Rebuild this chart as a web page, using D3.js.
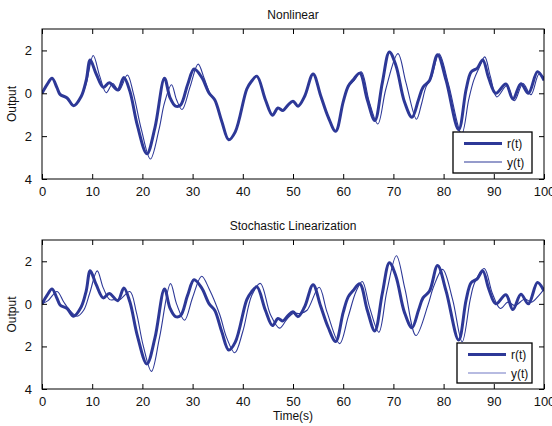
<!DOCTYPE html>
<html>
<head>
<meta charset="utf-8">
<script src="https://cdn.jsdelivr.net/npm/d3@7"></script>
<style>
  html, body { margin: 0; padding: 0; background: #fff; }
  svg { display: block; font-family: "Liberation Sans", Arial, sans-serif; }
</style>
</head>
<body>
<svg id="chart" width="552" height="426"></svg>
<script>
// Reference signal r(t): sample times and values (shared by both panels)
const rTime = [0, 1, 2.0, 3.0, 3.6, 5.0, 6.3, 7.8, 8.8, 9.6, 10.8, 12.2, 13.4, 15.1, 16.3, 17.5, 19.0, 20.9, 22.5, 24.4,
  25.5, 26.6, 27.6, 29.0, 30.3, 31.8, 33.3, 34.4, 35.8, 37.2, 38.5, 40.8, 41.7, 42.8, 44.5, 45.9, 47.0, 48.0, 49.0, 50.0,
  51.0, 52.3, 54.0, 55.5, 57.0, 58.5, 60.0, 61.0, 62.0, 63.3, 64.8, 66.3, 67.8, 69.2, 70.5, 72.2, 73.7, 75.0, 75.9, 77.2,
  78.8, 80.5, 83.0, 84.5, 85.5, 86.7, 87.8, 89.0, 90.4, 92.4, 93.8, 95.4, 96.9, 98.7, 100];
const rValue = [0, 0.4, 0.70, 0.25, -0.05, -0.22, -0.58, -0.15, 0.6, 1.55, 0.9, 0.28, 0.49, 0.15, 0.74, 0.1, -1.5, -2.82, -1.6, 0.70,
  -0.2, -0.6, -0.55, 0.4, 1.13, 0.75, 0.0, -0.3, -1.3, -2.17, -1.8, 0.2, 0.55, 0.80, -0.3, -1.02, -0.69, -0.80, -0.55, -0.37,
  -0.6, -0.15, 0.90, -0.1, -1.1, -1.77, -0.4, 0.33, 0.63, 0.94, -0.3, -1.27, 0.5, 1.93, 1.3, -0.4, -1.12, -0.3, 0.28, 0.6,
  1.8, 0.6, -1.7, 0.2, 1.0, 1.17, 1.55, 0.7, 0.0, 0.43, -0.27, 0.45, 0.0, 1.0, 0.6];

// Output y(t) of the nonlinear system
const yNlTime = [0, 1, 2.0, 3.0, 3.6, 5.0, 6.3, 7.8, 8.8, 10.2, 11.5, 12.8, 14.1, 15.3, 17.0, 18.2, 19.8, 21.6, 23.3, 24.4,
  25.8, 26.8, 27.9, 29.5, 31.1, 32.3, 33.5, 34.4, 35.8, 37.2, 38.5, 40.8, 41.7, 42.8, 44.5, 45.9, 47.0, 48.0, 49.0, 50.0,
  51.0, 52.3, 54.0, 55.5, 57.0, 58.5, 60.0, 61.0, 62.2, 63.6, 65.2, 66.9, 68.5, 70.9, 72.5, 74.6, 75.6, 76.5, 77.5, 79.1,
  81.0, 83.6, 85.0, 86.0, 87.0, 88.2, 89.3, 90.6, 92.6, 94.1, 95.8, 97.4, 99.0, 100];
const yNlValue = [0, 0.4, 0.70, 0.25, -0.05, -0.22, -0.58, -0.15, 0.45, 1.76, 0.8, 0.03, 0.46, 0.12, 0.85, 0.0, -1.7, -3.07, -1.7, -0.45,
  0.40, -0.3, -0.76, 0.3, 1.36, 0.7, -0.02, -0.3, -1.3, -2.17, -1.8, 0.2, 0.55, 0.80, -0.3, -1.02, -0.69, -0.80, -0.55, -0.37,
  -0.6, -0.15, 0.90, -0.1, -1.1, -1.77, -0.4, 0.3, 0.6, 1.0, -0.4, -1.43, 0.2, 1.85, 0.5, -1.21, -0.5, 0.3, 0.7, 1.84,
  0.4, -1.9, -0.3, 0.6, 1.15, 1.7, 0.8, -0.17, 0.35, -0.35, 0.45, -0.07, 0.9, 0.75];

// Output y(t) of the stochastically linearized system
const yLinTime = [0, 1.2, 3.0, 4.3, 5.5, 7.0, 8.3, 9.5, 11.0, 12.2, 13.5, 14.5, 15.5, 17.5, 18.8, 20.2, 21.8, 23.4, 25.6, 26.8,
  28.4, 30.0, 31.8, 33.3, 35.4, 36.8, 38.4, 40.0, 41.8, 43.5, 45.5, 47.3, 48.7, 50.0, 51.5, 52.8, 55.2, 56.8, 59.3, 61.0,
  62.6, 63.8, 65.3, 67.1, 68.7, 70.6, 72.3, 74.5, 76.9, 78.0, 79.8, 81.8, 83.7, 85.3, 86.2, 88.1, 89.7, 91.3, 92.8, 94.2,
  96.2, 97.5, 99.0, 100];
const yLinValue = [0, 0.15, 0.58, 0.1, -0.3, -0.58, -0.3, 0.5, 1.55, 0.75, 0.2, 0.2, 0.2, 0.58, -0.4, -2.0, -3.17, -1.6, 0.95, 0.0,
  -0.77, 0.3, 1.3, 0.7, -0.5, -1.6, -2.3, -1.3, 0.4, 0.96, -0.5, -1.14, -0.75, -0.45, -0.45, -0.3, 0.78, -0.4, -1.87, -0.6,
  0.6, 1.05, -0.2, -1.33, 0.6, 2.26, 0.7, -1.49, -0.05, 0.8, 1.62, 0.2, -1.78, 0.2, 1.0, 1.66, 0.5, -0.22, 0.08, -0.08,
  0.23, 0.08, 0.4, 0.7];

const xTicks = [0, 10, 20, 30, 40, 50, 60, 70, 80, 90, 100];
const yTicks = [2, 0, -2, -4];
const panelTitles = ["Nonlinear", "Stochastic Linearization"];
const legendLabels = ["r(t)", "y(t)"];

const lineColor = "#2d3897";
const thinLegendColors = ["#2d3897", "#7079c4"];

const svg = d3.select("#chart");
const left = 42, right = 544;

const panels = [
  { top: 29, bottom: 179, title: panelTitles[0], yt: yNlTime, yv: yNlValue, legend: { x: 453, y: 132, w: 79, h: 41 } },
  { top: 240, bottom: 389, title: panelTitles[1], yt: yLinTime, yv: yLinValue, legend: { x: 457, y: 343, w: 75, h: 40 } }
];

const x = d3.scaleLinear().domain([0, 100]).range([left, right]);
const zip = (t, v) => t.map((d, i) => [d, v[i]]);

panels.forEach((p, pi) => {
  const y = d3.scaleLinear().domain([-4, 3]).range([p.bottom, p.top]);
  const g = svg.append("g");

  const clipId = "clip" + pi;
  svg.append("clipPath").attr("id", clipId)
    .append("rect").attr("x", left).attr("y", p.top).attr("width", right - left).attr("height", p.bottom - p.top);

  const line = d3.line().x(d => x(d[0])).y(d => y(d[1])).curve(d3.curveCatmullRom.alpha(0.5));

  const plot = g.append("g").attr("clip-path", `url(#${clipId})`);
  plot.append("path").datum(zip(p.yt, p.yv))
    .attr("d", line).attr("fill", "none").attr("stroke", lineColor).attr("stroke-width", 1.1);
  plot.append("path").datum(zip(rTime, rValue))
    .attr("d", line).attr("fill", "none").attr("stroke", lineColor).attr("stroke-width", 3)
    .attr("stroke-linejoin", "round");

  // Axes, MATLAB style: ticks pointing inward on all four sides
  const fmtY = d => String(Math.abs(d));
  const ax = (axis, tx, ty) => {
    const a = g.append("g").attr("transform", `translate(${tx},${ty})`).call(axis);
    a.select(".domain").remove();
    a.selectAll("line").attr("stroke", "#000");
    a.selectAll("text").attr("font-size", 13).attr("fill", "#111")
      .attr("font-family", "'Liberation Sans', Arial, sans-serif");
    return a;
  };
  ax(d3.axisBottom(x).tickValues(xTicks).tickSize(-5).tickPadding(8), 0, p.bottom);
  ax(d3.axisTop(x).tickValues(xTicks).tickSize(-5).tickFormat(""), 0, p.top);
  ax(d3.axisLeft(y).tickValues(yTicks).tickSize(-5).tickPadding(10).tickFormat(fmtY), left, 0);
  ax(d3.axisRight(y).tickValues(yTicks).tickSize(-5).tickFormat(""), right, 0);

  g.append("rect").attr("x", left).attr("y", p.top).attr("width", right - left).attr("height", p.bottom - p.top)
    .attr("fill", "none").attr("stroke", "#000").attr("stroke-width", 1);

  g.append("text").attr("x", (left + right) / 2).attr("y", p.top - 10)
    .attr("text-anchor", "middle").attr("font-size", 12).attr("fill", "#111").text(p.title);

  g.append("text").attr("transform", `translate(16,${(p.top + p.bottom) / 2}) rotate(-90)`)
    .attr("text-anchor", "middle").attr("font-size", 12).attr("fill", "#111").text("Output");

  // Legend
  const L = p.legend;
  const lg = g.append("g");
  lg.append("rect").attr("x", L.x).attr("y", L.y).attr("width", L.w).attr("height", L.h)
    .attr("fill", "#fff").attr("stroke", "#000").attr("stroke-width", 1.3);
  const rows = [L.y + 11.5, L.y + 30];
  legendLabels.forEach((lab, i) => {
    lg.append("line").attr("x1", L.x + 11).attr("x2", L.x + 49).attr("y1", rows[i]).attr("y2", rows[i])
      .attr("stroke", i === 0 ? lineColor : thinLegendColors[pi]).attr("stroke-width", i === 0 ? 3 : 1.1);
    lg.append("text").attr("x", L.x + 54).attr("y", rows[i] + 4.5)
      .attr("font-size", 12).attr("fill", "#111").text(lab);
  });
});

svg.append("text").attr("x", (left + right) / 2).attr("y", 420)
  .attr("text-anchor", "middle").attr("font-size", 12).attr("fill", "#111").text("Time(s)");
</script>
</body>
</html>
